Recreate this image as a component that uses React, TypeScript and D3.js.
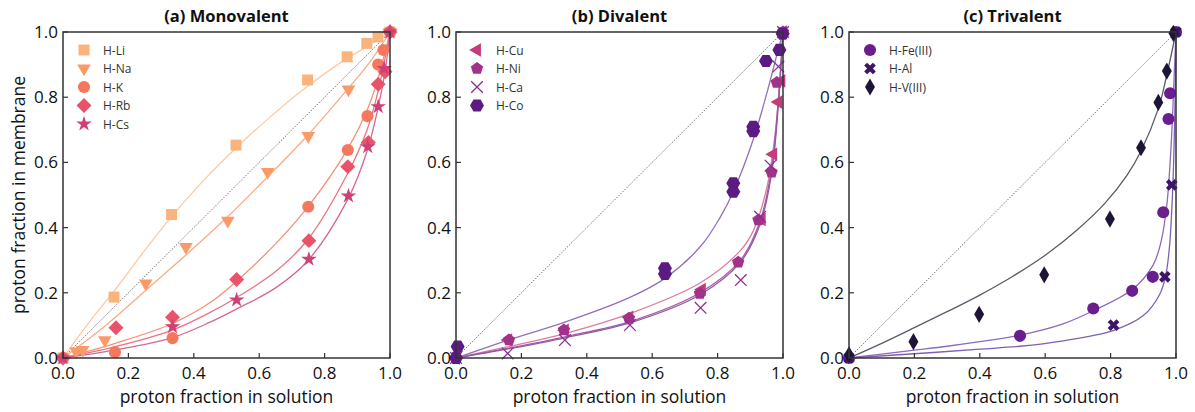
import * as d3 from "d3";
import React from "react";

// tick values shared by every panel
const tickValues = [0, 0.2, 0.4, 0.6, 0.8, 1.0];
const panelTitles = ["(a) Monovalent", "(b) Divalent", "(c) Trivalent"];

// ---- (a) Monovalent : measured points
const liX = [0, 0.156, 0.332, 0.529, 0.748, 0.869, 0.929, 0.963, 1.0];
const liY = [0, 0.187, 0.44, 0.653, 0.853, 0.924, 0.965, 0.985, 1.0];
const naX = [0, 0.04, 0.06, 0.128, 0.253, 0.376, 0.504, 0.626, 0.75, 0.873, 1.0];
const naY = [0, 0.02, 0.025, 0.055, 0.229, 0.341, 0.421, 0.571, 0.681, 0.824, 1.0];
const kX = [0, 0.159, 0.335, 0.75, 0.871, 0.931, 0.964, 0.98, 1.0];
const kY = [0, 0.018, 0.061, 0.464, 0.638, 0.742, 0.9, 0.945, 1.0];
const rbX = [0, 0.162, 0.335, 0.531, 0.752, 0.871, 0.934, 0.964, 0.985, 1.0];
const rbY = [0, 0.093, 0.125, 0.241, 0.36, 0.587, 0.661, 0.84, 0.878, 1.0];
const csX = [0, 0.335, 0.531, 0.752, 0.873, 0.932, 0.964, 0.982, 1.0];
const csY = [0, 0.096, 0.178, 0.303, 0.497, 0.648, 0.771, 0.888, 1.0];

// ---- (a) fitted curves
const liFitX = [0, 0.08, 0.156, 0.25, 0.333, 0.43, 0.53, 0.64, 0.75, 0.87, 0.93, 1.0];
const liFitY = [0, 0.11, 0.205, 0.33, 0.435, 0.545, 0.645, 0.745, 0.835, 0.92, 0.955, 1.0];
const naFitX = [0, 0.125, 0.25, 0.375, 0.5, 0.625, 0.75, 0.875, 0.94, 1.0];
const naFitY = [0, 0.095, 0.205, 0.315, 0.43, 0.555, 0.685, 0.83, 0.91, 1.0];
const kFitX = [0, 0.16, 0.333, 0.45, 0.53, 0.65, 0.75, 0.87, 0.93, 0.964, 1.0];
const kFitY = [0, 0.045, 0.105, 0.17, 0.235, 0.35, 0.465, 0.64, 0.76, 0.86, 1.0];
const rbFitX = [0, 0.16, 0.333, 0.45, 0.53, 0.65, 0.75, 0.87, 0.93, 0.964, 1.0];
const rbFitY = [0, 0.035, 0.085, 0.14, 0.185, 0.265, 0.365, 0.565, 0.7, 0.82, 1.0];
const csFitX = [0, 0.16, 0.333, 0.45, 0.53, 0.65, 0.75, 0.87, 0.93, 0.964, 0.985, 1.0];
const csFitY = [0, 0.025, 0.062, 0.11, 0.15, 0.215, 0.3, 0.485, 0.635, 0.77, 0.88, 1.0];

// ---- (b) Divalent : measured points
const cuX = [0, 0.16, 0.333, 0.53, 0.752, 0.935, 0.97, 0.986, 0.995, 1.0];
const cuY = [0, 0.055, 0.085, 0.125, 0.21, 0.425, 0.625, 0.785, 0.85, 1.0];
const niX = [0, 0.162, 0.33, 0.529, 0.746, 0.863, 0.925, 0.965, 0.981, 1.0];
const niY = [0, 0.055, 0.086, 0.122, 0.198, 0.294, 0.423, 0.57, 0.845, 1.0];
const caX = [0, 0.158, 0.333, 0.532, 0.748, 0.871, 0.93, 0.962, 0.986, 1.0];
const caY = [0, 0.014, 0.055, 0.101, 0.154, 0.239, 0.433, 0.59, 0.894, 1.0];
const coX = [0, 0.005, 0.639, 0.639, 0.848, 0.848, 0.909, 0.909, 0.948, 0.989, 0.999];
const coY = [0, 0.035, 0.275, 0.258, 0.536, 0.51, 0.709, 0.696, 0.911, 0.945, 0.995];

// ---- (b) fitted curves
const cuFitX = [0, 0.16, 0.333, 0.542, 0.746, 0.87, 0.909, 0.95, 0.975, 0.99, 1.0];
const cuFitY = [0, 0.035, 0.075, 0.14, 0.23, 0.33, 0.39, 0.52, 0.68, 0.85, 1.0];
const niFitX = [0, 0.16, 0.333, 0.542, 0.746, 0.87, 0.93, 0.965, 0.985, 1.0];
const niFitY = [0, 0.03, 0.065, 0.115, 0.2, 0.3, 0.42, 0.58, 0.78, 1.0];
const caFitX = [0, 0.16, 0.333, 0.542, 0.746, 0.87, 0.93, 0.965, 0.985, 1.0];
const caFitY = [0, 0.028, 0.062, 0.111, 0.194, 0.294, 0.41, 0.565, 0.765, 1.0];
const coFitX = [0, 0.16, 0.333, 0.53, 0.64, 0.75, 0.807, 0.848, 0.909, 0.95, 0.98, 1.0];
const coFitY = [0, 0.055, 0.11, 0.185, 0.245, 0.345, 0.43, 0.51, 0.67, 0.81, 0.925, 1.0];

// ---- (c) Trivalent : measured points
const feX = [0, 0.523, 0.747, 0.866, 0.929, 0.961, 0.977, 0.982, 1.0];
const feY = [0, 0.068, 0.152, 0.206, 0.249, 0.447, 0.733, 0.812, 1.0];
const alX = [0, 0.809, 0.966, 0.987, 1.0];
const alY = [0, 0.101, 0.249, 0.531, 1.0];
const vX = [0, 0.197, 0.398, 0.597, 0.798, 0.893, 0.946, 0.972, 0.992];
const vY = [0.01, 0.05, 0.134, 0.255, 0.426, 0.645, 0.784, 0.88, 0.996];

// ---- (c) fitted curves
const feFitX = [0, 0.1, 0.2, 0.3, 0.4, 0.523, 0.65, 0.747, 0.866, 0.93, 0.955, 0.972, 0.985, 0.995, 1.0];
const feFitY = [0, 0.012, 0.024, 0.036, 0.05, 0.07, 0.103, 0.145, 0.21, 0.285, 0.36, 0.47, 0.65, 0.88, 1.0];
const alFitX = [0, 0.2, 0.4, 0.523, 0.65, 0.81, 0.9, 0.95, 0.968, 0.98, 0.99, 0.997, 1.0];
const alFitY = [0, 0.013, 0.027, 0.036, 0.052, 0.085, 0.13, 0.195, 0.25, 0.34, 0.52, 0.78, 1.0];
const vFitX = [0, 0.1, 0.2, 0.3, 0.4, 0.5, 0.6, 0.7, 0.783, 0.85, 0.893, 0.946, 0.97, 1.0];
const vFitY = [0, 0.045, 0.093, 0.142, 0.193, 0.25, 0.315, 0.395, 0.475, 0.56, 0.635, 0.765, 0.86, 1.0];

type Series = {
  name: string;
  shape: string;
  color: string;
  lineColor: string;
  xs: number[];
  ys: number[];
  fitX: number[];
  fitY: number[];
};

const panels: Series[][] = [
  [
    { name: "H-Li", shape: "square", color: "#fbb37c", lineColor: "#fcc9a2", xs: liX, ys: liY, fitX: liFitX, fitY: liFitY },
    { name: "H-Na", shape: "triDown", color: "#fb9a68", lineColor: "#f9ac84", xs: naX, ys: naY, fitX: naFitX, fitY: naFitY },
    { name: "H-K", shape: "circle", color: "#f5775c", lineColor: "#f5917a", xs: kX, ys: kY, fitX: kFitX, fitY: kFitY },
    { name: "H-Rb", shape: "diamond", color: "#e8536a", lineColor: "#ea7484", xs: rbX, ys: rbY, fitX: rbFitX, fitY: rbFitY },
    { name: "H-Cs", shape: "star", color: "#cf4176", lineColor: "#d76892", xs: csX, ys: csY, fitX: csFitX, fitY: csFitY },
  ],
  [
    { name: "H-Cu", shape: "triLeft", color: "#c33c7c", lineColor: "#dc7ea2", xs: cuX, ys: cuY, fitX: cuFitX, fitY: cuFitY },
    { name: "H-Ni", shape: "pentagon", color: "#a2318a", lineColor: "#a65ca4", xs: niX, ys: niY, fitX: niFitX, fitY: niFitY },
    { name: "H-Ca", shape: "times", color: "#8b2f92", lineColor: "#9159a6", xs: caX, ys: caY, fitX: caFitX, fitY: caFitY },
    { name: "H-Co", shape: "hexagon", color: "#5c1a83", lineColor: "#9470b4", xs: coX, ys: coY, fitX: coFitX, fitY: coFitY },
  ],
  [
    { name: "H-Fe(III)", shape: "circle", color: "#6a1d8d", lineColor: "#8c6bb8", xs: feX, ys: feY, fitX: feFitX, fitY: feFitY },
    { name: "H-Al", shape: "xfill", color: "#3b1568", lineColor: "#7e61ae", xs: alX, ys: alY, fitX: alFitX, fitY: alFitY },
    { name: "H-V(III)", shape: "thinDiamond", color: "#1e1438", lineColor: "#5c5a68", xs: vX, ys: vY, fitX: vFitX, fitY: vFitY },
  ],
];

const font = "'Open Sans', 'Noto Sans', sans-serif";
const plotW = 327;
const plotH = 326;
const plotTop = 32;
const plotLefts = [63, 456, 849];

function polygon(n: number, r: number, offset: number) {
  const pts = d3.range(n).map((i) => {
    const a = offset + (i * 2 * Math.PI) / n;
    return [r * Math.cos(a), r * Math.sin(a)];
  });
  return "M" + pts.map((p) => p.join(",")).join("L") + "Z";
}

function markerPath(shape: string) {
  switch (shape) {
    case "square":
      return { d: d3.symbol(d3.symbolSquare, 120)()!, rot: 0, stroke: false };
    case "triDown":
      return { d: d3.symbol(d3.symbolTriangle, 80)()!, rot: 180, stroke: false };
    case "triLeft":
      return { d: d3.symbol(d3.symbolTriangle, 80)()!, rot: -90, stroke: false };
    case "circle":
      return { d: d3.symbol(d3.symbolCircle, 115)()!, rot: 0, stroke: false };
    case "diamond":
      return { d: d3.symbol(d3.symbolSquare, 112)()!, rot: 45, stroke: false };
    case "star":
      return { d: d3.symbol(d3.symbolStar, 75)()!, rot: 0, stroke: false };
    case "pentagon":
      return { d: polygon(5, 6.5, -Math.PI / 2), rot: 0, stroke: false };
    case "hexagon":
      return { d: polygon(6, 7, 0), rot: 0, stroke: false };
    case "times":
      return { d: d3.symbol(d3.symbolTimes, 90)()!, rot: 0, stroke: true };
    case "xfill":
      return { d: d3.symbol(d3.symbolCross, 85)()!, rot: 45, stroke: false };
    case "thinDiamond":
      return { d: d3.symbol(d3.symbolDiamond, 85)()!, rot: 0, stroke: false };
    default:
      return { d: d3.symbol(d3.symbolCircle, 100)()!, rot: 0, stroke: false };
  }
}

function Marker({ shape, color, x, y }: { shape: string; color: string; x: number; y: number }) {
  const m = markerPath(shape);
  return (
    <path
      d={m.d}
      transform={`translate(${x},${y}) rotate(${m.rot})`}
      fill={m.stroke ? "none" : color}
      stroke={m.stroke ? color : "none"}
      strokeWidth={m.stroke ? 1.3 : 0}
    />
  );
}

function Panel({ index }: { index: number }) {
  const left = plotLefts[index];
  const series = panels[index];
  const x = d3.scaleLinear().domain([0, 1]).range([left, left + plotW]);
  const y = d3.scaleLinear().domain([0, 1]).range([plotTop + plotH, plotTop]);

  const line = d3
    .line<[number, number]>()
    .x((d) => x(d[0]))
    .y((d) => y(d[1]))
    .curve(d3.curveCatmullRom.alpha(0.5));

  const legendX = left + 21;
  const legendY = plotTop + 18;
  const legendStep = 18.5;
  const fmt = d3.format(".1f");

  return (
    <g>
      <text
        x={left + plotW / 2}
        y={22}
        textAnchor="middle"
        fontWeight="bold"
        fontSize={16.5}
        fill="#111"
      >
        {panelTitles[index]}
      </text>

      {/* diagonal reference */}
      <line
        x1={x(0)}
        y1={y(0)}
        x2={x(1)}
        y2={y(1)}
        stroke="#333"
        strokeWidth={0.8}
        strokeDasharray="1.2,1.6"
      />

      {/* fitted curves */}
      {series.map((s) => (
        <path
          key={"fit" + s.name}
          d={line(s.fitX.map((v, i) => [v, s.fitY[i]] as [number, number]))!}
          fill="none"
          stroke={s.lineColor}
          strokeWidth={1.3}
        />
      ))}

      {/* points */}
      {series.map((s) =>
        s.xs.map((v, i) => (
          <Marker key={s.name + i} shape={s.shape} color={s.color} x={x(v)} y={y(s.ys[i])} />
        ))
      )}

      {/* legend */}
      {series.map((s, i) => (
        <g key={"leg" + s.name}>
          <Marker shape={s.shape} color={s.color} x={legendX} y={legendY + i * legendStep} />
          <text
            x={legendX + 19}
            y={legendY + i * legendStep + 4.5}
            fontSize={12}
            fill="#333"
          >
            {s.name}
          </text>
        </g>
      ))}

      {/* frame */}
      <rect x={left} y={plotTop} width={plotW} height={plotH} fill="none" stroke="#333" strokeWidth={1.5} />

      {/* ticks */}
      {tickValues.map((t) => (
        <g key={"t" + t}>
          <line x1={x(t)} x2={x(t)} y1={y(0)} y2={y(0) - 5} stroke="#333" strokeWidth={1.2} />
          <line x1={x(0)} x2={x(0) + 5} y1={y(t)} y2={y(t)} stroke="#333" strokeWidth={1.2} />
          <text x={x(t)} y={379} textAnchor="middle" fontSize={17} fill="#111">
            {fmt(t)}
          </text>
          <text x={left - 5} y={y(t) + 6} textAnchor="end" fontSize={17} fill="#111">
            {fmt(t)}
          </text>
        </g>
      ))}

      <text x={left + plotW / 2} y={403} textAnchor="middle" fontSize={17.5} fill="#111">
        proton fraction in solution
      </text>
    </g>
  );
}

export default function App() {
  return (
    <svg
      width={1195}
      height={412}
      style={{ position: "absolute", left: 0, top: 0, background: "#fff" }}
      fontFamily={font}
    >
      <rect width={1195} height={412} fill="#fff" />
      {panelTitles.map((_, i) => (
        <Panel key={i} index={i} />
      ))}
      <text
        transform={`translate(25,${plotTop + plotH / 2}) rotate(-90)`}
        textAnchor="middle"
        fontSize={17.5}
        fill="#111"
      >
        proton fraction in membrane
      </text>
    </svg>
  );
}
